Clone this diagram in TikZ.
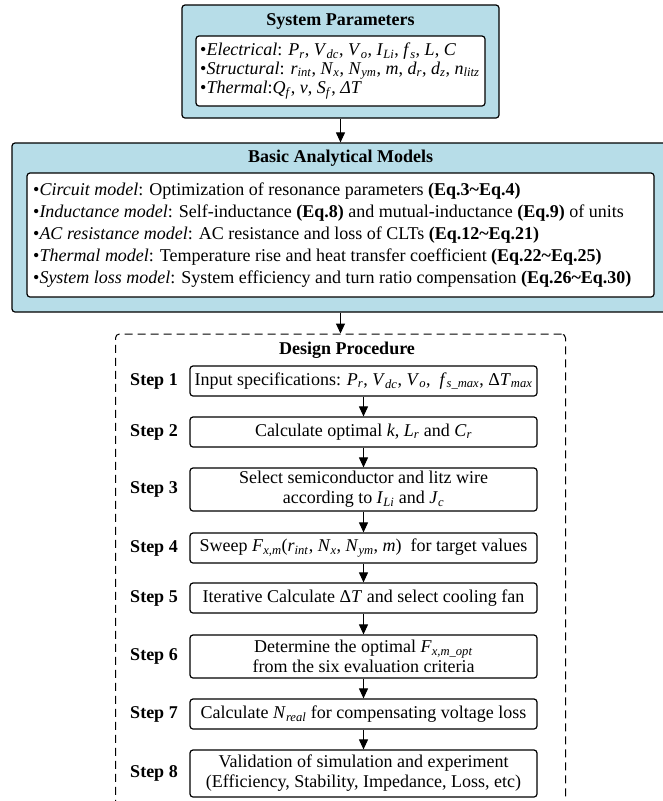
\documentclass[tikz,border=0pt]{standalone}
\usepackage{fontspec}
\setmainfont{Liberation Serif}
\usetikzlibrary{arrows.meta}
\definecolor{panelblue}{RGB}{183,221,232}
\newcommand{\vi}[2]{\textit{#1}\textsubscript{\textit{#2}}}
\begin{document}
\begin{tikzpicture}[x=1pt,y=-1pt,
  font=\fontsize{18}{20}\selectfont,
  panel/.style={draw=black, line width=1.2pt, fill=panelblue, rounded corners=3pt, inner sep=0pt},
  innerbox/.style={draw=black, line width=1.2pt, fill=white, rounded corners=3pt, inner sep=0pt},
  stepbox/.style={draw=black, line width=1.2pt, fill=white, rounded corners=3pt, minimum width=347pt, align=center, inner sep=0pt},
  steplabel/.style={font=\fontsize{18}{20}\selectfont\bfseries, inner sep=0pt},
  titletext/.style={font=\fontsize{18}{20}\selectfont\bfseries, inner sep=0pt},
  itemtext/.style={anchor=west, inner sep=0pt},
  arr/.style={-{Triangle[length=10pt,width=9pt]}, line width=1pt},
  frame/.style={draw=black, line width=1pt, dash pattern=on 8pt off 5pt, rounded corners=4pt, inner sep=0pt}]
\useasboundingbox (0,0) rectangle (663,801);
\clip (0,0) rectangle (663,801);
% System parameters
\node[panel, minimum width=317pt, minimum height=113pt] (sys) at (340.5,61.5) {};
\node[innerbox, minimum width=289pt, minimum height=70pt] (sysin) at (340.5,71) {};
\node[titletext] (systitle) at (340.5,21) {System Parameters};
\node[itemtext] (e1) at (200,51) {\textbullet\textit{Electrical}: \vi{P}{r}, \vi{V}{dc}, \vi{V}{o}, \vi{I}{Li}, \vi{f}{s}, \textit{L}, \textit{C}};
\node[itemtext] (e2) at (200,70.5) {\textbullet\textit{Structural}: \vi{r}{int}, \vi{N}{x}, \vi{N}{ym}, \textit{m}, \vi{d}{r}, \vi{d}{z}, \vi{n}{litz}};
\node[itemtext] (e3) at (200,90) {\textbullet\textit{Thermal}:\vi{Q}{f}, \textit{v}, \vi{S}{f}, \textit{ΔT}};
% Basic analytical models
\node[panel, minimum width=657pt, minimum height=169pt] (models) at (340.5,227.5) {};
\node[innerbox, minimum width=627pt, minimum height=124pt] (modelsin) at (340.5,235) {};
\node[titletext] (modtitle) at (340.5,158) {Basic Analytical Models};
\node[itemtext] (m1) at (33,191) {\textbullet\textit{Circuit model}: Optimization of resonance parameters \textbf{(Eq.3\textasciitilde Eq.4)}};
\node[itemtext] (m2) at (33,213) {\textbullet\textit{Inductance model}: Self-inductance \textbf{(Eq.8)} and mutual-inductance \textbf{(Eq.9)} of units};
\node[itemtext] (m3) at (33,235) {\textbullet\textit{AC resistance model}: AC resistance and loss of CLTs \textbf{(Eq.12\textasciitilde Eq.21)}};
\node[itemtext] (m4) at (33,257) {\textbullet\textit{Thermal model}: Temperature rise and heat transfer coefficient \textbf{(Eq.22\textasciitilde Eq.25)}};
\node[itemtext] (m5) at (33,279) {\textbullet\textit{System loss model}: System efficiency and turn ratio compensation \textbf{(Eq.26\textasciitilde Eq.30)}};
% Design procedure frame
\node[frame, minimum width=450pt, minimum height=540pt] (proc) at (340.5,604) {};
\node[titletext] (proctitle) at (347,350) {Design Procedure};
% Steps
\node[stepbox, minimum height=30pt] (s1) at (363.5,381) {Input specifications: \vi{P}{r}, \vi{V}{dc}, \vi{V}{o}, \ \vi{f}{s\_max}, Δ\vi{T}{max}};
\node[stepbox, minimum height=30pt] (s2) at (363.5,432) {Calculate optimal \textit{k}, \vi{L}{r} and \vi{C}{r}};
\node[stepbox, minimum height=43pt] (s3) at (363.5,489.5) {Select semiconductor and litz wire\\according to \vi{I}{Li} and \vi{J}{c}};
\node[stepbox, minimum height=30pt] (s4) at (363.5,548) {Sweep \vi{F}{x,m}(\vi{r}{int}, \vi{N}{x}, \vi{N}{ym}, \textit{m}) \ for target values};
\node[stepbox, minimum height=30pt] (s5) at (363.5,598) {Iterative Calculate Δ\textit{T} and select cooling fan};
\node[stepbox, minimum height=43pt] (s6) at (363.5,656.5) {Determine the optimal \vi{F}{x,m\_opt}\\from the six evaluation criteria};
\node[stepbox, minimum height=30pt] (s7) at (363.5,714) {Calculate \vi{N}{real} for compensating voltage loss};
\node[stepbox, minimum height=47pt] (s8) at (363.5,773.5) {Validation of simulation and experiment\\(Efficiency, Stability, Impedance, Loss, etc)};
% Step labels
\node[steplabel] (l1) at (154,381) {Step 1};
\node[steplabel] (l2) at (154,432) {Step 2};
\node[steplabel] (l3) at (154,489.5) {Step 3};
\node[steplabel] (l4) at (154,548) {Step 4};
\node[steplabel] (l5) at (154,598) {Step 5};
\node[steplabel] (l6) at (154,656.5) {Step 6};
\node[steplabel] (l7) at (154,714) {Step 7};
\node[steplabel] (l8) at (154,773.5) {Step 8};
% Arrows
\draw[arr] (sys.south) -- (models.north);
\draw[arr] (models.south) -- (proc.north);
\draw[arr] (s1.south) -- (s2.north);
\draw[arr] (s2.south) -- (s3.north);
\draw[arr] (s3.south) -- (s4.north);
\draw[arr] (s4.south) -- (s5.north);
\draw[arr] (s5.south) -- (s6.north);
\draw[arr] (s6.south) -- (s7.north);
\draw[arr] (s7.south) -- (s8.north);
\end{tikzpicture}
\end{document}
